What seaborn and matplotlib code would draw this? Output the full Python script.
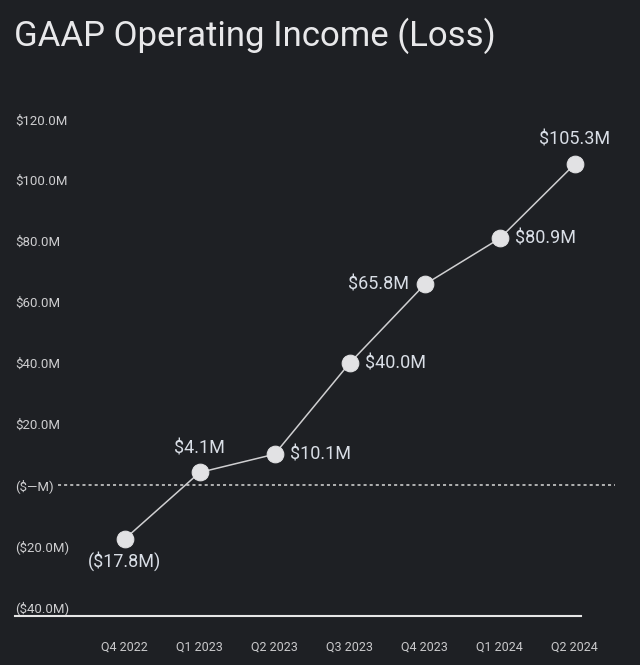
import matplotlib
matplotlib.use("Agg")
from matplotlib import pyplot as plt
import seaborn as sns
import pandas as pd

# Data
quarters = ["Q4 2022", "Q1 2023", "Q2 2023", "Q3 2023", "Q4 2023", "Q1 2024", "Q2 2024"]
income = [-17.8, 4.1, 10.1, 40.0, 65.8, 80.9, 105.3]
point_labels = ["($17.8M)", "$4.1M", "$10.1M", "$40.0M", "$65.8M", "$80.9M", "$105.3M"]
label_side = ["below", "above", "right", "right", "left", "right", "above"]
y_ticks = [-40, -20, 0, 20, 40, 60, 80, 100, 120]
y_tick_labels = ["($40.0M)", "($20.0M)", "($\u2014M)", "$20.0M", "$40.0M",
                 "$60.0M", "$80.0M", "$100.0M", "$120.0M"]

df = pd.DataFrame({"pos": range(len(quarters)), "income": income})

bg = "#1e2024"
sns.set_theme(style="dark")
plt.rcParams["font.family"] = ["Roboto", "DejaVu Sans"]

fig = plt.figure(figsize=(6.4, 6.65), dpi=100, facecolor=bg)
ax = fig.add_axes([0.0234, 0.0737, 0.884, 0.7835])
ax.set_facecolor(bg)

sns.lineplot(data=df, x="pos", y="income", ax=ax, color="#cfcfd1", linewidth=1.1,
             marker="o", markersize=12, markerfacecolor="#e2e2e4",
             markeredgecolor="#e2e2e4", zorder=3, clip_on=False)

ax.set_xlim(-1.46, 6.08)
ax.set_ylim(-43, 128)

# zero line
ax.axhline(0, xmin=0.076, xmax=1.06, color="#d8d8d8", linestyle=(0, (2, 2)),
           linewidth=1.1, clip_on=False, zorder=1)

offsets = {"below": ((0, -9), "center", "top"),
           "above": ((0, 11), "center", "bottom"),
           "right": ((11, 0), "left", "center"),
           "left": ((-11, 0), "right", "center")}
for i, (v, lab, side) in enumerate(zip(income, point_labels, label_side)):
    off, ha, va = offsets[side]
    ax.annotate(lab, (i, v), xytext=off, textcoords="offset points",
                ha=ha, va=va, color="#d9dee6", fontsize=13)

ax.set_xticks(range(len(quarters)))
ax.set_xticklabels(quarters, color="#c9c9cb", fontsize=9)
ax.set_yticks(y_ticks)
ax.set_yticklabels(y_tick_labels, color="#cdcdcf", fontsize=9.5)
for lbl in ax.get_yticklabels():
    lbl.set_horizontalalignment("left")
ax.tick_params(axis="y", length=0, pad=0)
ax.tick_params(axis="x", length=0, pad=18)
ax.set_xlabel("")
ax.set_ylabel("")
ax.grid(False)

for s in ["top", "right", "left"]:
    ax.spines[s].set_visible(False)
ax.spines["bottom"].set_color("#e6e6e6")
ax.spines["bottom"].set_linewidth(1.5)

fig.text(0.022, 0.946, "GAAP Operating Income (Loss)", color="#e8e8ea",
         fontsize=25, fontweight="normal", va="center", ha="left")

fig.savefig("out.png", dpi=100, facecolor=bg)
